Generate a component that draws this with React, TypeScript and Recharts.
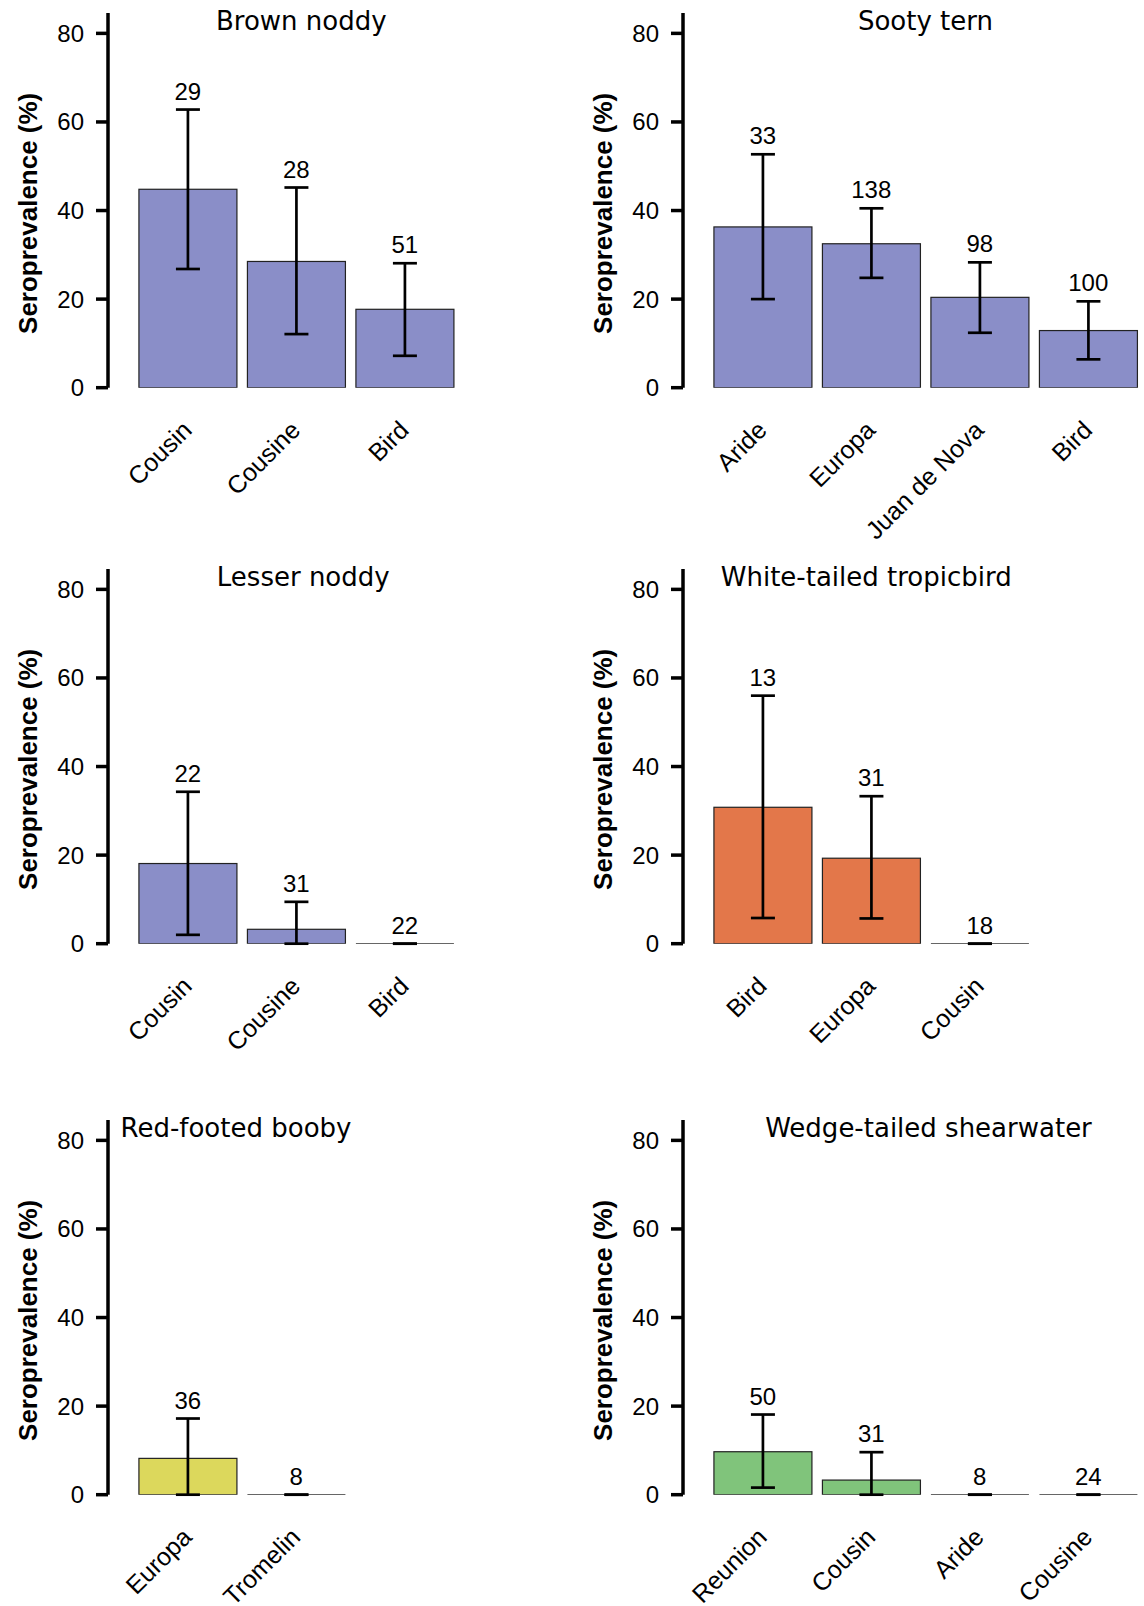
import {
  ComposedChart, Bar, Line, XAxis, YAxis, ErrorBar, LabelList, Label,
} from 'recharts'

const BLUE = '#8a8ec8'
const ORANGE = '#e3774a'
const YELLOW = '#dcd85c'
const GREEN = '#80c47b'

const Y_TICKS = [0, 20, 40, 60, 80]

// Brown noddy
const brownSites = ['Cousin', 'Cousine', 'Bird']
const brownPrev = [44.8, 28.5, 17.7]
const brownLow = [26.8, 12.1, 7.2]
const brownHigh = [62.8, 45.2, 28.1]
const brownN = [29, 28, 51]

// Sooty tern
const sootySites = ['Aride', 'Europa', 'Juan de Nova', 'Bird']
const sootyPrev = [36.3, 32.5, 20.4, 12.9]
const sootyLow = [20.0, 24.8, 12.4, 6.4]
const sootyHigh = [52.7, 40.5, 28.3, 19.5]
const sootyN = [33, 138, 98, 100]

// Lesser noddy
const lesserSites = ['Cousin', 'Cousine', 'Bird']
const lesserPrev = [18.1, 3.25, 0]
const lesserLow = [2.0, 0, 0]
const lesserHigh = [34.3, 9.45, 0]
const lesserN = [22, 31, 22]

// White-tailed tropicbird
const tropicSites = ['Bird', 'Europa', 'Cousin']
const tropicPrev = [30.8, 19.3, 0]
const tropicLow = [5.8, 5.7, 0]
const tropicHigh = [56.0, 33.3, 0]
const tropicN = [13, 31, 18]

// Red-footed booby
const boobySites = ['Europa', 'Tromelin']
const boobyPrev = [8.2, 0]
const boobyLow = [0, 0]
const boobyHigh = [17.2, 0]
const boobyN = [36, 8]

// Wedge-tailed shearwater
const shearSites = ['Reunion', 'Cousin', 'Aride', 'Cousine']
const shearPrev = [9.7, 3.3, 0, 0]
const shearLow = [1.6, 0, 0, 0]
const shearHigh = [18.1, 9.6, 0, 0]
const shearN = [50, 31, 8, 24]

const SANS = '"Liberation Sans", Arial, Helvetica, sans-serif'
const TITLE_FONT = '"DejaVu Sans", Verdana, sans-serif'

// layout
const AXIS_W = 108
const PAD_L = 25.5
const BAND = 108.5
const PLOT_H = 374.7
const TOP_M = 5
const XAXIS_H = 175
const COL_X = [0, 575]
const ROW_TOP = [13, 568.6, 1119.8]

const panels = [
  { title: 'Brown noddy', sites: brownSites, prev: brownPrev, low: brownLow, high: brownHigh, n: brownN, color: BLUE, col: 0, row: 0, tdx: 5 },
  { title: 'Sooty tern', sites: sootySites, prev: sootyPrev, low: sootyLow, high: sootyHigh, n: sootyN, color: BLUE, col: 1, row: 0, tdx: 0 },
  { title: 'Lesser noddy', sites: lesserSites, prev: lesserPrev, low: lesserLow, high: lesserHigh, n: lesserN, color: BLUE, col: 0, row: 1, tdx: 7 },
  { title: 'White-tailed tropicbird', sites: tropicSites, prev: tropicPrev, low: tropicLow, high: tropicHigh, n: tropicN, color: ORANGE, col: 1, row: 1, tdx: -5 },
  { title: 'Red-footed booby', sites: boobySites, prev: boobyPrev, low: boobyLow, high: boobyHigh, n: boobyN, color: YELLOW, col: 0, row: 2, tdx: -6 },
  { title: 'Wedge-tailed shearwater', sites: shearSites, prev: shearPrev, low: shearLow, high: shearHigh, n: shearN, color: GREEN, col: 1, row: 2, tdx: 3 },
]

function SiteTick(props: any) {
  const { x, y, payload } = props
  const ax = x + 5.5
  const ay = y + 44
  return (
    <text
      x={ax}
      y={ay}
      textAnchor="end"
      transform={`rotate(-45 ${ax} ${ay})`}
      fontSize={25}
      fontFamily={SANS}
      fill="#000"
    >
      {payload.value}
    </text>
  )
}

function BarShape(props: any) {
  const { x, y, width, height, fill } = props
  if (!height || Math.abs(height) < 0.5) {
    return <line x1={x} x2={x + width} y1={y} y2={y} stroke="#333" strokeWidth={1.4} />
  }
  return <rect x={x} y={y} width={width} height={height} fill={fill} stroke="#222" strokeWidth={1.2} />
}

function YLab(props: any) {
  const { viewBox } = props
  const lx = viewBox.x + 36.5
  const ly = viewBox.y + viewBox.height / 2 + 13
  return (
    <text
      x={lx}
      y={ly}
      textAnchor="middle"
      transform={`rotate(-90 ${lx} ${ly})`}
      fontSize={26}
      fontWeight="bold"
      fontFamily={SANS}
      fill="#000"
    >
      Seroprevalence (%)
    </text>
  )
}

function Panel({ p }: { p: typeof panels[number] }) {
  const data = p.sites.map((site, i) => ({
    site,
    prev: p.prev[i],
    upper: p.high[i],
    n: p.n[i],
    err: [p.prev[i] - p.low[i], p.high[i] - p.prev[i]],
  }))
  const nb = p.sites.length
  const width = AXIS_W + PAD_L + nb * BAND + 4
  const height = TOP_M + PLOT_H + XAXIS_H
  const titleX = AXIS_W + PAD_L + (nb * BAND) / 2 + p.tdx

  return (
    <div style={{ position: 'absolute', left: COL_X[p.col], top: ROW_TOP[p.row] - TOP_M, width, height }}>
      <ComposedChart
        width={width}
        height={height}
        data={data}
        margin={{ top: TOP_M, right: 4, bottom: 0, left: 0 }}
        barCategoryGap="5%"
      >
        <XAxis
          dataKey="site"
          type="category"
          axisLine={false}
          tickLine={false}
          tickSize={0}
          tickMargin={0}
          interval={0}
          height={XAXIS_H}
          padding={{ left: PAD_L, right: 0 }}
          tick={<SiteTick />}
        />
        <YAxis
          domain={[0, 84.6]}
          allowDataOverflow
          ticks={Y_TICKS}
          interval={0}
          width={AXIS_W}
          axisLine={{ stroke: '#000', strokeWidth: 3.5 }}
          tickLine={{ stroke: '#000', strokeWidth: 3.5 }}
          tickSize={12}
          tickMargin={12}
          tick={{ fontSize: 24, fill: '#000', fontFamily: SANS }}
        >
          <Label content={<YLab />} />
        </YAxis>
        <Bar dataKey="prev" fill={p.color} shape={<BarShape />} isAnimationActive={false}>
          <ErrorBar dataKey="err" width={12} stroke="#000" strokeWidth={2.7} direction="y" />
        </Bar>
        <Line
          dataKey="upper"
          stroke="none"
          dot={false}
          activeDot={false}
          legendType="none"
          isAnimationActive={false}
        >
          <LabelList dataKey="n" position="top" offset={10} fontSize={24} fill="#000" fontFamily={SANS} />
        </Line>
      </ComposedChart>
      <svg
        width={width}
        height={40}
        style={{ position: 'absolute', left: 0, top: 0, overflow: 'visible', pointerEvents: 'none' }}
      >
        <text x={titleX} y={TOP_M + 17} textAnchor="middle" fontSize={26} fontFamily={TITLE_FONT} fill="#000">
          {p.title}
        </text>
      </svg>
    </div>
  )
}

export default function App() {
  return (
    <div style={{ position: 'absolute', left: 0, top: 0, width: 1144, height: 1606, background: '#fff' }}>
      {panels.map(p => (
        <Panel key={p.title} p={p} />
      ))}
    </div>
  )
}
